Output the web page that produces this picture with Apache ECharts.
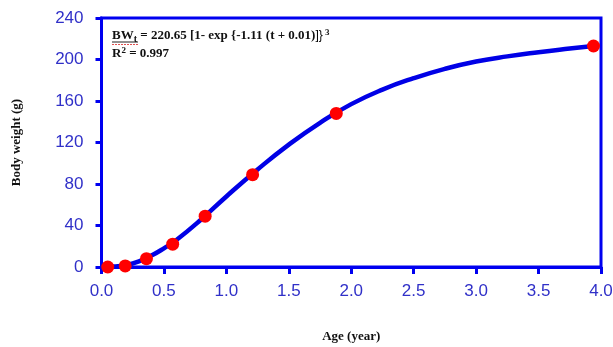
<!DOCTYPE html>
<html>
<head>
<meta charset="utf-8">
<script src="https://cdn.jsdelivr.net/npm/echarts@6/dist/echarts.min.js"></script>
<style>html,body{margin:0;padding:0;background:#fff}#c{width:613px;height:347px}</style>
</head>
<body>
<div id="c"></div>
<script>
// Observed data points (red dots)
const ageObs = [0.05, 0.19, 0.36, 0.57, 0.83, 1.21, 1.88, 3.94];
const weightObs = [0, 1, 8, 22, 49, 89, 148, 213];
// Fitted curve
const curveAge = [0, 0.1, 0.2, 0.3, 0.4, 0.5, 0.6, 0.8, 1.0, 1.25, 1.5, 1.75, 2.0, 2.25, 2.5, 2.75, 3.0, 3.25, 3.5, 3.75, 3.94];
const curveWeight = [0, 0.4, 2, 5.5, 11, 18, 26, 46, 68, 94, 118, 139, 157, 171, 182, 191, 198, 203, 207, 210.5, 213];
const xTicks = [0, 0.5, 1, 1.5, 2, 2.5, 3, 3.5, 4];
const yTicks = [0, 40, 80, 120, 160, 200, 240];

const axisBlue = '#0000f0';
const labelBlue = '#3030c8';
const chart = echarts.init(document.getElementById('c'), null, {renderer: 'canvas'});
const serif = '"Liberation Serif", "Times New Roman", serif';
chart.setOption({
  animation: false,
  grid: {left: 101.5, right: 12, top: 18, bottom: 80, containLabel: false, outerBoundsMode: 'none',
    show: true, borderColor: axisBlue, borderWidth: 3, backgroundColor: 'transparent'},
  xAxis: {
    type: 'value', min: xTicks[0], max: xTicks[xTicks.length - 1], interval: 0.5,
    name: 'Age (year)', nameLocation: 'middle', nameGap: 63,
    nameTextStyle: {fontFamily: serif, fontWeight: 'bold', fontSize: 13, color: '#111'},
    axisLine: {show: true, lineStyle: {color: axisBlue, width: 3}},
    axisTick: {show: true, length: 7, lineStyle: {color: axisBlue, width: 3}},
    splitLine: {show: false},
    axisLabel: {margin: 16, fontFamily: '"Liberation Sans", Arial, sans-serif', fontSize: 17, color: labelBlue,
      formatter: v => v.toFixed(1)}
  },
  yAxis: {
    type: 'value', min: yTicks[0], max: yTicks[yTicks.length - 1], interval: 40,
    name: 'Body weight (g)', nameLocation: 'middle', nameGap: 78, nameRotate: 90,
    nameTextStyle: {fontFamily: serif, fontWeight: 'bold', fontSize: 13, color: '#111'},
    axisLine: {show: true, lineStyle: {color: axisBlue, width: 3}},
    axisTick: {show: true, length: 6, lineStyle: {color: axisBlue, width: 3}},
    splitLine: {show: false},
    axisLabel: {margin: 18, fontFamily: '"Liberation Sans", Arial, sans-serif', fontSize: 17, color: labelBlue}
  },
  series: [
    {
      type: 'line', data: curveAge.map((a, i) => [a, curveWeight[i]]),
      smooth: 0.5, showSymbol: false, symbol: 'none',
      lineStyle: {color: '#0000e6', width: 4.5}, z: 2
    },
    {
      type: 'scatter', data: ageObs.map((a, i) => [a, weightObs[i]]),
      symbol: 'circle', symbolSize: 13, itemStyle: {color: '#ff0000', opacity: 1}, z: 3
    }
  ],
  graphic: [
    {
      type: 'text', left: 112, top: 28, z: 10,
      style: {
        text: '{b|BW}{sub|t}{b| = 220.65 [1- exp {-1.11 (t + 0.01)}]}{sup| 3}',
        rich: {
          b: {fontFamily: serif, fontWeight: 'bold', fontSize: 13, fill: '#111', color: '#111'},
          sub: {fontFamily: serif, fontWeight: 'bold', fontSize: 10, fill: '#111', color: '#111', verticalAlign: 'bottom', padding: [6, 0, 0, 0]},
          sup: {fontFamily: serif, fontWeight: 'bold', fontSize: 9, fill: '#111', color: '#111', verticalAlign: 'top', padding: [0, 0, 6, 0]}
        }
      }
    },
    {
      type: 'text', left: 112, top: 46, z: 10,
      style: {
        text: '{b|R}{sup|2}{b| = 0.997}',
        rich: {
          b: {fontFamily: serif, fontWeight: 'bold', fontSize: 13, fill: '#111', color: '#111'},
          sup: {fontFamily: serif, fontWeight: 'bold', fontSize: 9, fill: '#111', color: '#111', verticalAlign: 'top', padding: [0, 0, 6, 0]}
        }
      }
    },
    {type: 'line', z: 10, shape: {x1: 112, y1: 42, x2: 138, y2: 42}, style: {stroke: '#222', lineWidth: 1}},
    {type: 'line', z: 10, shape: {x1: 112, y1: 44.5, x2: 138, y2: 44.5}, style: {stroke: '#e05050', lineWidth: 1, lineDash: [2, 1]}}
  ]
});
</script>
</body>
</html>
